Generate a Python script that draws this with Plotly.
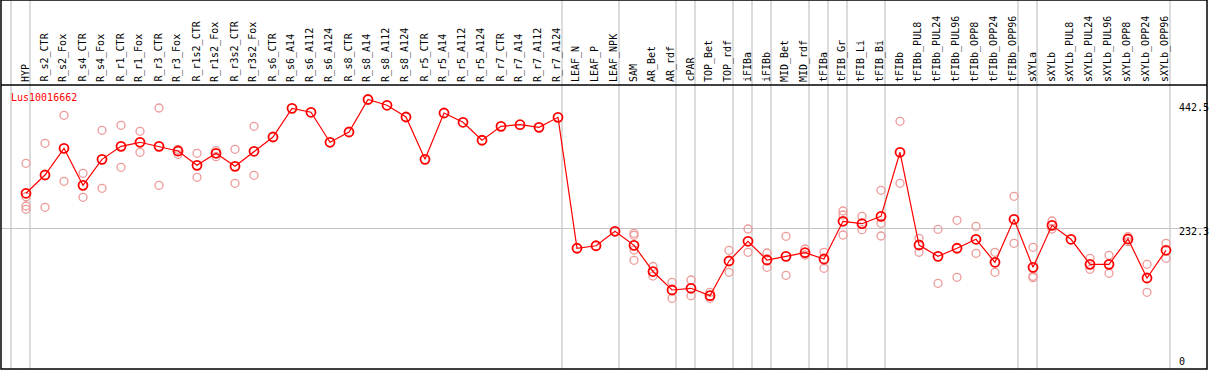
import plotly.graph_objects as go

gene_id = "Lus10016662"

categories = [
    "HYP", "R_s2_CTR", "R_s2_Fox", "R_s4_CTR", "R_s4_Fox", "R_r1_CTR", "R_r1_Fox",
    "R_r3_CTR", "R_r3_Fox", "R_r1s2_CTR", "R_r1s2_Fox", "R_r3s2_CTR", "R_r3s2_Fox",
    "R_s6_CTR", "R_s6_A14", "R_s6_A112", "R_s6_A124", "R_s8_CTR", "R_s8_A14",
    "R_s8_A112", "R_s8_A124", "R_r5_CTR", "R_r5_A14", "R_r5_A112", "R_r5_A124",
    "R_r7_CTR", "R_r7_A14", "R_r7_A112", "R_r7_A124", "LEAF_N", "LEAF_P", "LEAF_NPK",
    "SAM", "AR_Bet", "AR_rdf", "cPAR", "TOP_Bet", "TOP_rdf", "iFIBa", "iFIBb",
    "MID_Bet", "MID_rdf", "tFIBa", "tFIB_Gr", "tFIB_Li", "tFIB_Bi", "tFIBb",
    "tFIBb_PUL8", "tFIBb_PUL24", "tFIBb_PUL96", "tFIBb_OPP8", "tFIBb_OPP24",
    "tFIBb_OPP96", "sXYLa", "sXYLb", "sXYLb_PUL8", "sXYLb_PUL24", "sXYLb_PUL96",
    "sXYLb_OPP8", "sXYLb_OPP24", "sXYLb_OPP96",
]

mean_values = [
    291.5, 322.4, 367.5, 305.0, 348.9, 370.9, 377.7, 370.9, 363.0, 338.8, 359.1,
    337.1, 362.5, 386.6, 435.1, 428.4, 377.7, 395.1, 450.0, 440.2, 420.4, 348.9,
    427.2, 411.5, 381.1, 404.7, 407.4, 403.0, 419.9, 198.6, 202.9, 227.3, 203.6,
    159.3, 128.1, 131.0, 118.5, 177.1, 210.4, 178.8, 185.0, 191.1, 180.5, 244.2,
    240.1, 252.6, 360.8, 204.1, 185.0, 198.6, 213.8, 174.9, 247.6, 166.4, 237.4,
    213.8, 171.5, 171.5, 214.3, 148.4, 195.2,
]

replicate_values = [
    [342.2, 285.7, 270.0, 264.5], [376.0, 267.8], [423.3, 311.8], [325.3, 284.7],
    [397.9, 299.9], [406.4, 335.4], [396.3, 360.8], [435.6, 305.0], [365.8, 357.4],
    [359.1, 318.5], [363.5, 353.3], [365.8, 308.4], [404.7, 321.9],
    [], [], [], [], [], [], [], [], [], [], [], [], [], [], [], [], [], [], [],
    [223.9, 220.5, 195.7, 178.3], [167.8, 151.7], [141.1, 114.1], [145.0, 118.5],
    [124.2, 114.1], [195.2, 158.0], [231.2, 191.8], [190.6, 166.4], [218.8, 152.9],
    [197.4, 187.2], [191.8, 164.8], [261.6, 254.8, 221.0], [252.6, 230.0],
    [296.6, 240.8, 219.3], [413.2, 308.4], [215.4, 191.8], [230.7, 139.4],
    [245.9, 149.5], [235.7, 190.1], [191.8, 158.0], [286.4, 207.0],
    [200.2, 151.2, 148.9], [244.7, 231.2], [], [181.7, 163.1], [186.7, 156.3],
    [218.2, 209.7], [171.5, 124.2], [207.0, 181.7],
]

y_tick_values = [0, 232.3, 442.5]
y_tick_labels = ["0", "232.3", "442.5"]
y_tick_shift = [4, -3.5, -3.5]

# indices of categories after which a separator line is drawn
group_separators = [-1, 0, 28, 31, 34, 35, 37, 38, 39, 41, 42, 43, 45, 52, 53, 60]

W, H = 1209, 370
ML, MR, MT, MB = 1, 2, 85, 1
plot_w = W - ML - MR
plot_h = H - MT - MB
step_px = 19.0
x_min = -25.0 / step_px
x_max = x_min + plot_w / step_px
y_min, y_max = -5.4, 474.5
top_paper = 1 + MT / plot_h

FONT = "DejaVu Sans Mono"
RED = "#ff0000"
PINK = "#ee9a9a"
GRID = "#c4c4c4"

idx = list(range(len(categories)))
rep_x, rep_y = [], []
for i, reps in enumerate(replicate_values):
    for v in reps:
        rep_x.append(i)
        rep_y.append(v)

fig = go.Figure()
fig.add_trace(go.Scatter(
    x=rep_x, y=rep_y, mode="markers",
    marker=dict(symbol="circle-open", size=8, color=PINK, line=dict(width=1.3, color=PINK)),
    hoverinfo="skip", showlegend=False, cliponaxis=False,
))
fig.add_trace(go.Scatter(
    x=idx, y=mean_values, mode="lines+markers",
    line=dict(color=RED, width=1.2),
    marker=dict(symbol="circle-open", size=9, color=RED, line=dict(width=1.8, color=RED)),
    showlegend=False, cliponaxis=False,
))

shapes = []
for g in group_separators:
    shapes.append(dict(type="line", xref="x", yref="paper", x0=g + 4 / step_px, x1=g + 4 / step_px,
                       y0=0, y1=top_paper, line=dict(color=GRID, width=1.2), layer="below"))
shapes.append(dict(type="rect", xref="paper", yref="paper", x0=0, x1=1, y0=0, y1=top_paper,
                   line=dict(color="black", width=1.5)))
shapes.append(dict(type="line", xref="paper", yref="paper", x0=0, x1=1, y0=1, y1=1,
                   line=dict(color="black", width=1.5)))

annotations = []
for i, c in enumerate(categories):
    annotations.append(dict(x=i, y=1, xref="x", yref="paper", text=c, showarrow=False,
                            textangle=-90, xanchor="center", yanchor="bottom",
                            xshift=-1, yshift=1, font=dict(family=FONT, size=10, color="black")))
annotations.append(dict(x=(9 - ML) / plot_w, y=(H - MB - 97.5) / plot_h, xref="paper", yref="paper",
                        text=gene_id, showarrow=False, xanchor="left", yanchor="middle",
                        font=dict(family=FONT, size=10, color=RED)))
for v, t, s in zip(y_tick_values, y_tick_labels, y_tick_shift):
    annotations.append(dict(x=(1177 - ML) / plot_w, y=v, xref="paper", yref="y", text=t,
                            showarrow=False, xanchor="left", yanchor="middle", yshift=s,
                            font=dict(family=FONT, size=10, color="black")))

fig.update_layout(
    width=W, height=H,
    margin=dict(l=ML, r=MR, t=MT, b=MB, pad=0),
    paper_bgcolor="white", plot_bgcolor="white",
    xaxis=dict(range=[x_min, x_max], showgrid=False, zeroline=False, showticklabels=False,
               ticks="", showline=False),
    yaxis=dict(range=[y_min, y_max], tickvals=[y_tick_values[1]], showgrid=True,
               gridcolor=GRID, gridwidth=1.2, zeroline=False, showticklabels=False,
               ticks="", showline=False),
    shapes=shapes, annotations=annotations,
    font=dict(family=FONT, size=10),
)

fig.write_html(
    "out.html",
    config={"displayModeBar": False},
    post_script="document.body.style.margin='0';document.body.style.padding='0';",
)
